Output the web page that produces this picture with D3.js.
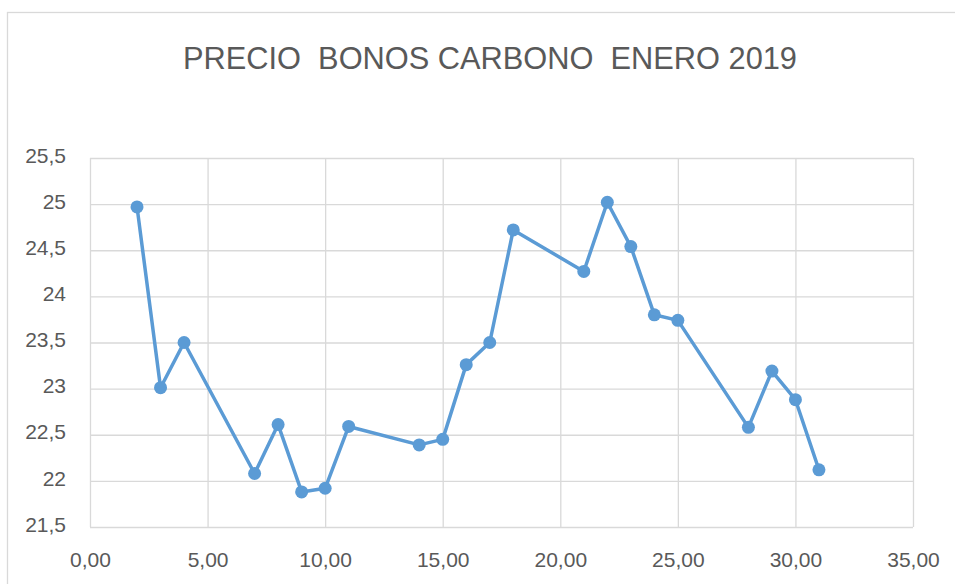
<!DOCTYPE html>
<html>
<head>
<meta charset="utf-8">
<script src="https://cdn.jsdelivr.net/npm/d3@7"></script>
<style>
  html, body { margin: 0; padding: 0; background: #fff; }
  svg { display: block; }
  text { font-family: "Liberation Sans", Arial, sans-serif; fill: #595959; }
</style>
</head>
<body>
<svg id="chart" width="955" height="584"></svg>
<script>
// Carbon credit price, January 2019 (day of month, price)
const days   = [2, 3, 4, 7, 8, 9, 10, 11, 14, 15, 16, 17, 18, 21, 22, 23, 24, 25, 28, 29, 30, 31];
const prices = [24.97, 23.01, 23.5, 22.08, 22.61, 21.88, 21.92, 22.59, 22.39, 22.45, 23.26, 23.5,
                24.72, 24.27, 25.02, 24.54, 23.8, 23.74, 22.58, 23.19, 22.88, 22.12];
const xTicks = [0, 5, 10, 15, 20, 25, 30, 35];
const yTicks = [21.5, 22, 22.5, 23, 23.5, 24, 24.5, 25, 25.5];
const title  = "PRECIO  BONOS CARBONO  ENERO 2019";

const svg = d3.select("#chart");
const W = 955, H = 584;
const plot = { left: 90, top: 158, right: 913, bottom: 527 };

// outer chart frame
svg.append("rect")
  .attr("x", 7.5).attr("y", 12.5)
  .attr("width", W + 10).attr("height", H + 10)
  .attr("fill", "#fff").attr("stroke", "#d9d9d9").attr("stroke-width", 1.3);

const x = d3.scaleLinear().domain([0, 35]).range([plot.left, plot.right]);
const y = d3.scaleLinear().domain([21.5, 25.5]).range([plot.bottom, plot.top]);

const fmt = v => v.toFixed(2).replace(".", ",");
const fmtY = v => String(v).replace(".", ",");

// vertical gridlines + x tick labels
const xAxis = d3.axisBottom(x).tickValues(xTicks).tickSize(-(plot.bottom - plot.top)).tickFormat(fmt).tickPadding(0);
const gx = svg.append("g").attr("transform", `translate(0,${plot.bottom})`).call(xAxis);
gx.select(".domain").remove();
gx.selectAll(".tick line").attr("stroke", "#d9d9d9").attr("stroke-width", 1.3);
gx.selectAll(".tick text").attr("font-size", 21).attr("fill", "#595959")
  .attr("y", 40).attr("dy", 0);

// horizontal gridlines + y tick labels
const yAxis = d3.axisLeft(y).tickValues(yTicks).tickSize(-(plot.right - plot.left)).tickFormat(fmtY).tickPadding(24);
const gy = svg.append("g").attr("transform", `translate(${plot.left},0)`).call(yAxis);
gy.select(".domain").remove();
gy.selectAll(".tick line").attr("stroke", "#d9d9d9").attr("stroke-width", 1.3);
gy.selectAll(".tick text").attr("font-size", 21).attr("fill", "#595959").attr("dy", "0.2em");

// title
svg.append("text")
  .attr("x", 490).attr("y", 69)
  .attr("text-anchor", "middle")
  .attr("font-size", 31)
  .attr("textLength", 614).attr("lengthAdjust", "spacingAndGlyphs")
  .style("white-space", "pre")
  .text(title);

const data = days.map((d, i) => ({ d, p: prices[i] }));

// price line
svg.append("path")
  .datum(data)
  .attr("fill", "none")
  .attr("stroke", "#5b9bd5")
  .attr("stroke-width", 3.5)
  .attr("stroke-linejoin", "round")
  .attr("d", d3.line().x(v => x(v.d)).y(v => y(v.p)));

// markers
svg.append("g").selectAll("circle")
  .data(data).join("circle")
  .attr("cx", v => x(v.d)).attr("cy", v => y(v.p))
  .attr("r", 6.5)
  .attr("fill", "#5b9bd5");
</script>
</body>
</html>
